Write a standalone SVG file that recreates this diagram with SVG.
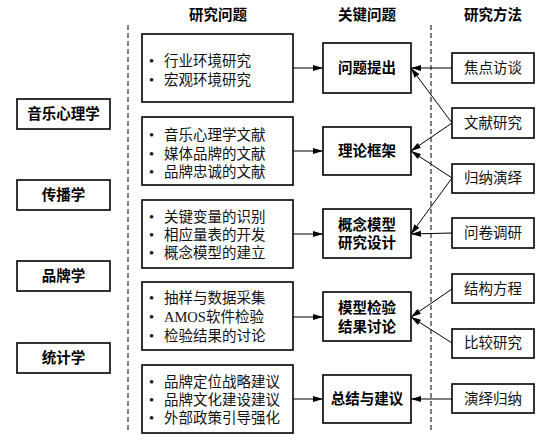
<svg xmlns="http://www.w3.org/2000/svg" width="555" height="441" viewBox="0 0 555 441">
<defs>
<style>
.b{fill:#fff;stroke:#000;stroke-width:1.6}
.t{font-family:"Liberation Serif","Noto Sans CJK SC",serif;font-size:14.5px;fill:#111}
.h{font-family:"Liberation Sans","Noto Sans CJK SC",sans-serif;font-size:14.5px;font-weight:bold;fill:#000;text-anchor:middle}
.m{font-family:"Liberation Serif","Noto Sans CJK SC",serif;font-size:14.5px;fill:#111;text-anchor:middle}
.d{stroke:#000;stroke-width:1;stroke-dasharray:5,3;fill:none}
.c{stroke:#000;stroke-width:1;fill:none;marker-end:url(#a)}
</style>
<marker id="a" viewBox="0 0 10 6" refX="10" refY="3" markerWidth="10" markerHeight="6" markerUnits="userSpaceOnUse" orient="auto">
<path d="M0,0 L10,3 L0,6 Z" fill="#000"/>
</marker>
</defs>
<rect width="555" height="441" fill="#fff"/>
<g id="headers">
<text class="h" x="218" y="20">研究问题</text>
<text class="h" x="367" y="20">关键问题</text>
<text class="h" x="493" y="20">研究方法</text>
</g>
<line class="d" x1="128" y1="25" x2="128" y2="432"/>
<line class="d" x1="431" y1="25" x2="431" y2="432"/>
<g id="disc1"><rect class="b" x="17" y="99" width="93" height="30"/><text class="h" x="63.5" y="119">音乐心理学</text></g>
<g id="disc2"><rect class="b" x="17" y="180" width="93" height="30"/><text class="h" x="63.5" y="200">传播学</text></g>
<g id="disc3"><rect class="b" x="17" y="261" width="93" height="30"/><text class="h" x="63.5" y="281">品牌学</text></g>
<g id="disc4"><rect class="b" x="17" y="343" width="93" height="30"/><text class="h" x="63.5" y="363">统计学</text></g>
<g id="q1"><rect class="b" x="142" y="34" width="151" height="68"/>
<text class="t" y="66"><tspan x="149">•</tspan><tspan x="164">行业环境研究</tspan></text>
<text class="t" y="85"><tspan x="149">•</tspan><tspan x="164">宏观环境研究</tspan></text></g>
<g id="q2"><rect class="b" x="142" y="117" width="151" height="68"/>
<text class="t" y="140"><tspan x="149">•</tspan><tspan x="164">音乐心理学文献</tspan></text>
<text class="t" y="159"><tspan x="149">•</tspan><tspan x="164">媒体品牌的文献</tspan></text>
<text class="t" y="177"><tspan x="149">•</tspan><tspan x="164">品牌忠诚的文献</tspan></text></g>
<g id="q3"><rect class="b" x="142" y="200" width="151" height="68"/>
<text class="t" y="222"><tspan x="149">•</tspan><tspan x="164">关键变量的识别</tspan></text>
<text class="t" y="240"><tspan x="149">•</tspan><tspan x="164">相应量表的开发</tspan></text>
<text class="t" y="258"><tspan x="149">•</tspan><tspan x="164">概念模型的建立</tspan></text></g>
<g id="q4"><rect class="b" x="142" y="282" width="151" height="68"/>
<text class="t" y="303"><tspan x="149">•</tspan><tspan x="164">抽样与数据采集</tspan></text>
<text class="t" y="322"><tspan x="149">•</tspan><tspan x="164">AMOS软件检验</tspan></text>
<text class="t" y="341"><tspan x="149">•</tspan><tspan x="164">检验结果的讨论</tspan></text></g>
<g id="q5"><rect class="b" x="142" y="365" width="151" height="68"/>
<text class="t" y="387"><tspan x="149">•</tspan><tspan x="164">品牌定位战略建议</tspan></text>
<text class="t" y="405"><tspan x="149">•</tspan><tspan x="164">品牌文化建设建议</tspan></text>
<text class="t" y="423"><tspan x="149">•</tspan><tspan x="164">外部政策引导强化</tspan></text></g>
<g id="k1"><rect class="b" x="323" y="43" width="88" height="50"/><text class="h" x="367" y="73">问题提出</text></g>
<g id="k2"><rect class="b" x="323" y="127" width="88" height="48"/><text class="h" x="367" y="156">理论框架</text></g>
<g id="k3"><rect class="b" x="323" y="209" width="88" height="49"/><text class="h" x="367" y="230">概念模型</text><text class="h" x="367" y="248">研究设计</text></g>
<g id="k4"><rect class="b" x="323" y="292" width="88" height="49"/><text class="h" x="367" y="313">模型检验</text><text class="h" x="367" y="332">结果讨论</text></g>
<g id="k5"><rect class="b" x="323" y="375" width="88" height="48"/><text class="h" x="367" y="404">总结与建议</text></g>
<g id="m1"><rect class="b" x="452" y="53" width="82" height="30"/><text class="m" x="493" y="73">焦点访谈</text></g>
<g id="m2"><rect class="b" x="452" y="108" width="82" height="30"/><text class="m" x="493" y="128">文献研究</text></g>
<g id="m3"><rect class="b" x="452" y="164" width="82" height="29"/><text class="m" x="493" y="183">归纳演绎</text></g>
<g id="m4"><rect class="b" x="452" y="218" width="82" height="30"/><text class="m" x="493" y="238">问卷调研</text></g>
<g id="m5"><rect class="b" x="452" y="274" width="82" height="29"/><text class="m" x="493" y="294">结构方程</text></g>
<g id="m6"><rect class="b" x="452" y="329" width="82" height="29"/><text class="m" x="493" y="348">比较研究</text></g>
<g id="m7"><rect class="b" x="452" y="384" width="82" height="29"/><text class="m" x="493" y="404">演绎归纳</text></g>
<g id="connectors">
<line class="c" x1="293" y1="68" x2="323" y2="68"/>
<line class="c" x1="293" y1="151" x2="323" y2="151"/>
<line class="c" x1="293" y1="234" x2="323" y2="234"/>
<line class="c" x1="293" y1="317" x2="323" y2="317"/>
<line class="c" x1="293" y1="399" x2="323" y2="399"/>
<line class="c" x1="452" y1="68" x2="411" y2="68"/>
<line class="c" x1="452" y1="123" x2="411" y2="68"/>
<line class="c" x1="452" y1="123" x2="411" y2="151"/>
<line class="c" x1="452" y1="178" x2="411" y2="151"/>
<line class="c" x1="452" y1="178" x2="411" y2="234"/>
<line class="c" x1="452" y1="233" x2="411" y2="234"/>
<line class="c" x1="452" y1="289" x2="411" y2="317"/>
<line class="c" x1="452" y1="343" x2="411" y2="317"/>
<line class="c" x1="452" y1="399" x2="411" y2="399"/>
</g>
</svg>
